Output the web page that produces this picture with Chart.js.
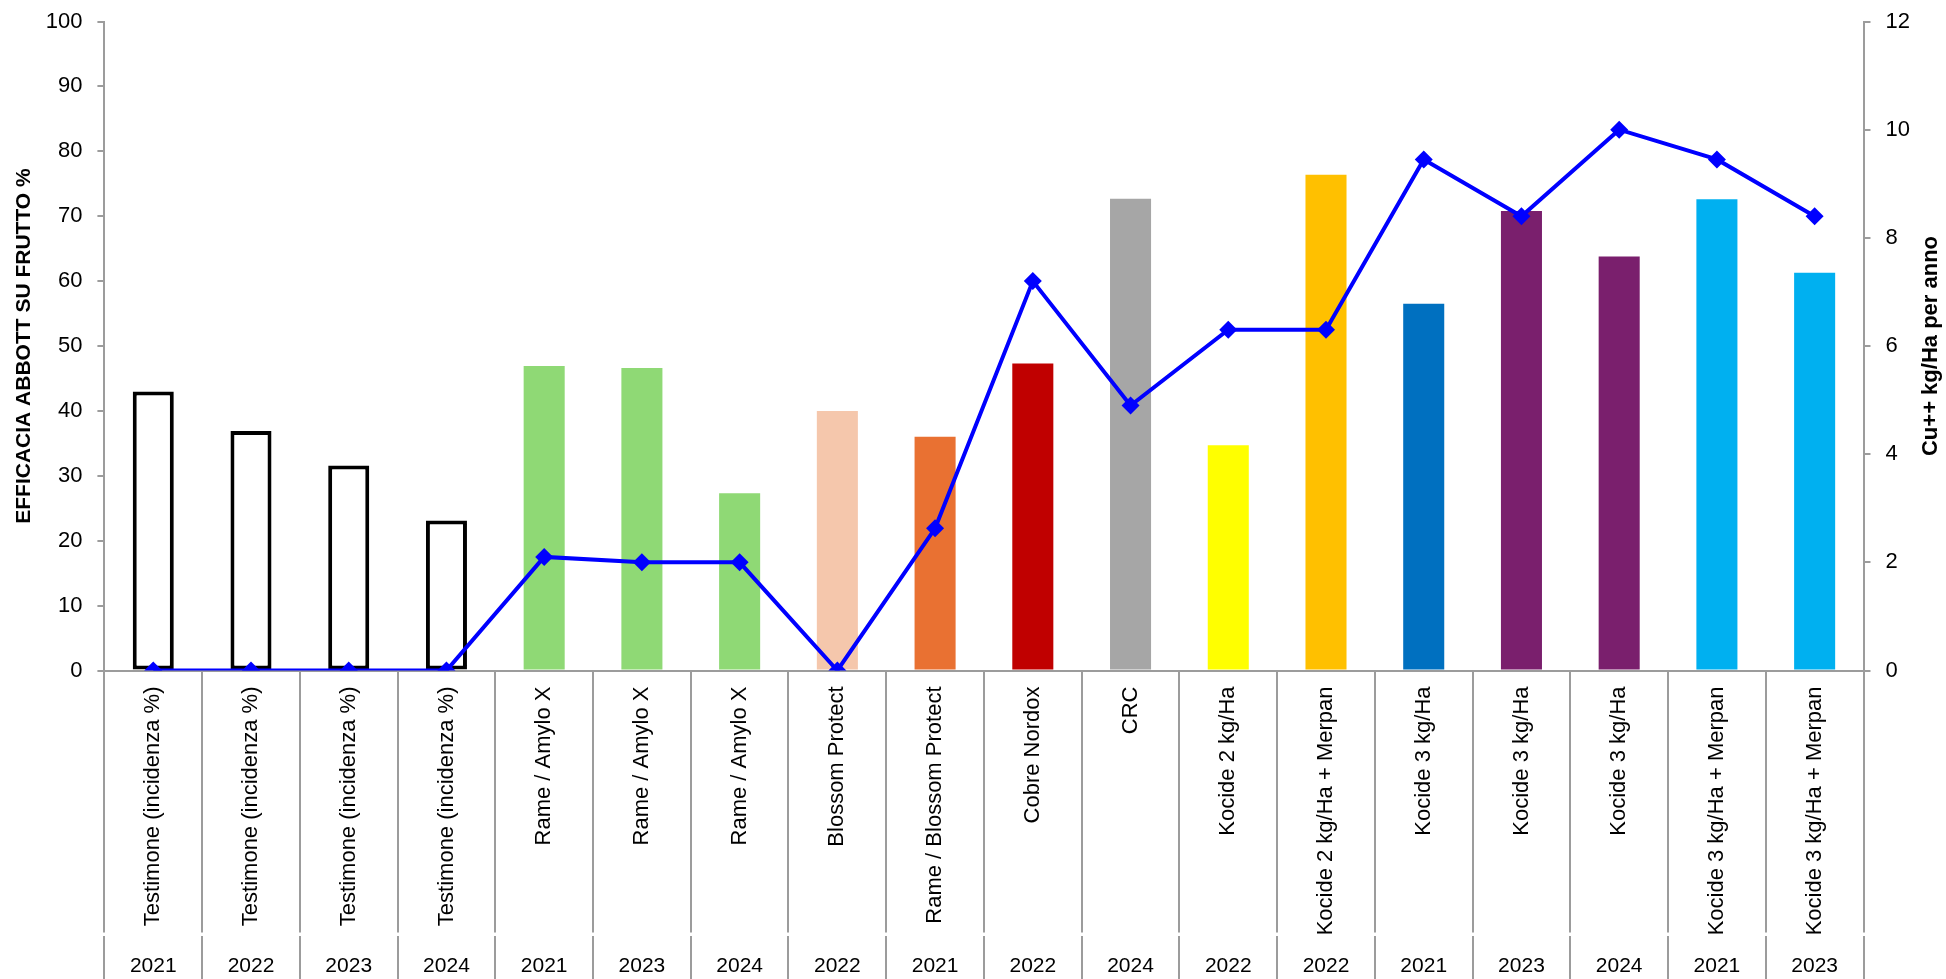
<!DOCTYPE html>
<html>
<head>
<meta charset="utf-8">
<script src="https://cdn.jsdelivr.net/npm/chart.js@4/dist/chart.umd.min.js"></script>
<style>
  body { margin: 0; background: #fff; }
  #wrap { width: 1946px; height: 979px; position: relative; }
</style>
</head>
<body>
<div id="wrap"><canvas id="efficaciaChart"></canvas></div>
<script>
const categories = [
    'Testimone (incidenza %)', 'Testimone (incidenza %)', 'Testimone (incidenza %)', 'Testimone (incidenza %)',
    'Rame / Amylo X', 'Rame / Amylo X', 'Rame / Amylo X',
    'Blossom Protect', 'Rame / Blossom Protect', 'Cobre Nordox', 'CRC',
    'Kocide 2 kg/Ha', 'Kocide 2 kg/Ha + Merpan',
    'Kocide 3 kg/Ha', 'Kocide 3 kg/Ha', 'Kocide 3 kg/Ha',
    'Kocide 3 kg/Ha + Merpan', 'Kocide 3 kg/Ha + Merpan'
];
const years = ['2021', '2022', '2023', '2024', '2021', '2023', '2024', '2022', '2021',
    '2022', '2024', '2022', '2022', '2021', '2023', '2024', '2021', '2023'];

// efficacia Abbott (%) - asse sinistro
const efficacia = [43.0, 36.9, 31.6, 23.1, 46.9, 46.6, 27.3, 40.0, 36.0,
    47.3, 72.7, 34.7, 76.4, 56.5, 70.8, 63.8, 72.6, 61.3];
// Cu++ kg/Ha per anno - asse destro
const rame = [0, 0, 0, 0, 2.1, 2.0, 2.0, 0, 2.63,
    7.2, 4.9, 6.3, 6.3, 9.45, 8.4, 10.0, 9.45, 8.4];

const leftTicks = { min: 0, max: 100, step: 10 };
const rightTicks = { min: 0, max: 12, step: 2 };

const barColors = ['#FFFFFF', '#FFFFFF', '#FFFFFF', '#FFFFFF',
    '#8FD975', '#8FD975', '#8FD975', '#F5C7AC', '#E97132', '#C00000', '#A6A6A6',
    '#FFFF00', '#FFC000', '#0070C0', '#7A1F6D', '#7A1F6D', '#00B0F0', '#00B0F0'];
const barBorders = barColors.map((c, i) => i < 4 ? 4 : 0);

const FONT = '"Liberation Sans", Arial, sans-serif';
const AXIS_GREY = '#9C9C9C';

// altezza fissa delle due fasce dell'asse x, niente padding laterale
function fixHeight(h) {
    return function (scale) {
        scale.height = h;
        scale.paddingLeft = 0;
        scale.paddingRight = 0;
    };
}
// larghezza fissa degli assi verticali
function fixWidth(w) {
    return function (scale) {
        scale.width = w;
        scale.paddingTop = 0;
        scale.paddingBottom = 0;
    };
}

// titolo asse destro, letto dal basso verso l'alto come nell'originale
const rightTitle = {
    id: 'rightTitle',
    afterDraw(chart) {
        const { ctx, chartArea } = chart;
        ctx.save();
        ctx.translate(1930.5, (chartArea.top + chartArea.bottom) / 2);
        ctx.rotate(-Math.PI / 2);
        ctx.font = 'bold 22px ' + FONT;
        ctx.fillStyle = '#000';
        ctx.textAlign = 'center';
        ctx.textBaseline = 'middle';
        ctx.fillText('Cu++ kg/Ha per anno', 0, 0);
        ctx.restore();
    }
};

new Chart(document.getElementById('efficaciaChart'), {
    data: {
        labels: categories,
        datasets: [{
            type: 'line',
            label: 'Cu++ kg/Ha per anno',
            data: rame,
            yAxisID: 'y1',
            borderColor: '#0000FF',
            backgroundColor: '#0000FF',
            borderWidth: 4,
            pointStyle: 'rectRot',
            pointRadius: 9,
            pointBorderWidth: 0,
            tension: 0,
            order: 0
        }, {
            type: 'bar',
            label: 'Efficacia Abbott',
            data: efficacia,
            yAxisID: 'y',
            backgroundColor: barColors,
            borderColor: '#000000',
            borderWidth: barBorders,
            borderSkipped: false,
            barPercentage: 0.42,
            categoryPercentage: 1,
            order: 1
        }]
    },
    options: {
        responsive: true,
        maintainAspectRatio: false,
        animation: false,
        layout: { padding: { left: 4, right: 36, top: 21.5, bottom: 0 } },
        plugins: {
            legend: { display: false },
            tooltip: { enabled: false }
        },
        scales: {
            x: {
                type: 'category',
                position: 'bottom',
                weight: 0,
                offset: true,
                afterFit: fixHeight(265),
                grid: { display: true, offset: true, drawOnChartArea: false, tickLength: 262, color: AXIS_GREY, lineWidth: 2 },
                border: { display: true, color: AXIS_GREY, width: 2 },
                ticks: {
                    autoSkip: false, minRotation: 90, maxRotation: 90, padding: -246,
                    color: '#000', font: { family: FONT, size: 22 }
                }
            },
            xYear: {
                type: 'category',
                position: 'bottom',
                weight: 1,
                labels: years,
                offset: true,
                afterFit: fixHeight(43.5),
                grid: { display: true, offset: true, drawOnChartArea: false, tickLength: 44, color: AXIS_GREY, lineWidth: 2 },
                border: { display: false },
                ticks: {
                    autoSkip: false, maxRotation: 0, padding: -25.7,
                    color: '#000', font: { family: FONT, size: 21 }
                }
            },
            y: {
                position: 'left',
                min: leftTicks.min, max: leftTicks.max,
                afterFit: fixWidth(100.4),
                grid: { drawOnChartArea: false, tickLength: 7, color: AXIS_GREY, lineWidth: 2 },
                border: { display: true, color: AXIS_GREY, width: 2 },
                ticks: { stepSize: leftTicks.step, padding: 15, color: '#000', font: { family: FONT, size: 22 } },
                title: {
                    display: true,
                    text: 'EFFICACIA ABBOTT SU FRUTTO %',
                    color: '#000',
                    font: { family: FONT, size: 21, weight: 'bold' },
                    padding: { top: 8, bottom: 8.5 }
                }
            },
            y1: {
                position: 'right',
                min: rightTicks.min, max: rightTicks.max,
                afterFit: fixWidth(46.5),
                grid: { drawOnChartArea: false, tickLength: 7, color: AXIS_GREY, lineWidth: 2 },
                border: { display: true, color: AXIS_GREY, width: 2 },
                ticks: { stepSize: rightTicks.step, padding: 15, color: '#000', font: { family: FONT, size: 22 } }
            }
        }
    },
    plugins: [rightTitle]
});
</script>
</body>
</html>
